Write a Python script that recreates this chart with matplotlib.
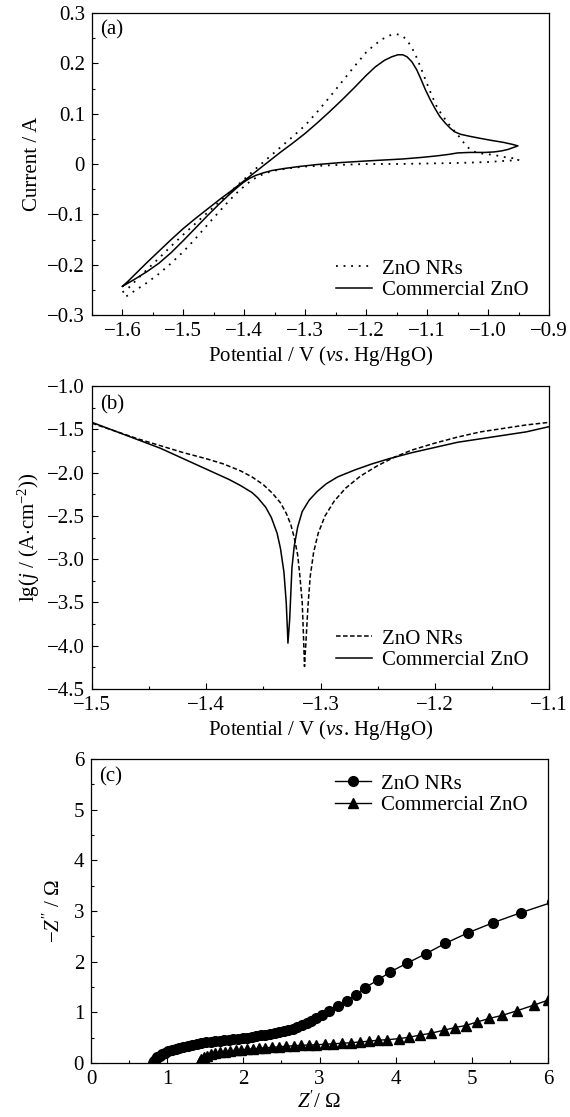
import matplotlib
matplotlib.use('Agg')
import matplotlib.pyplot as plt
from matplotlib.ticker import MultipleLocator, FuncFormatter

plt.rcParams['font.family'] = ['Liberation Serif', 'DejaVu Serif']
plt.rcParams['mathtext.fontset'] = 'custom'
plt.rcParams['mathtext.rm'] = 'Liberation Serif'
plt.rcParams['mathtext.it'] = 'Liberation Serif:italic'
plt.rcParams['font.size'] = 15

# (a) cyclic voltammetry: forward sweep then return sweep
cv_nr_x = [-1.600, -1.590, -1.575, -1.560, -1.540, -1.520, -1.500, -1.480, -1.460, -1.440,
           -1.420, -1.400, -1.380, -1.360, -1.340, -1.320, -1.300, -1.280, -1.260, -1.240,
           -1.220, -1.200, -1.185, -1.172, -1.160, -1.150, -1.141, -1.133, -1.125, -1.117,
           -1.109, -1.101, -1.093, -1.085, -1.076, -1.068, -1.060, -1.051, -1.043, -1.035,
           -1.027, -1.018, -1.005, -0.990, -0.975, -0.962, -0.950,
           -0.950, -0.960, -0.975, -1.000, -1.050, -1.100, -1.150, -1.200, -1.250, -1.300,
           -1.330, -1.350, -1.365, -1.378, -1.390, -1.400, -1.412, -1.425, -1.440, -1.460,
           -1.480, -1.500, -1.520, -1.540, -1.560, -1.580, -1.600]
cv_nr_y = [-0.255, -0.246, -0.228, -0.210, -0.187, -0.163, -0.140, -0.118, -0.096, -0.074,
           -0.052, -0.030, -0.008, 0.013, 0.034, 0.055, 0.077, 0.104, 0.133, 0.163,
           0.193, 0.222, 0.238, 0.249, 0.256, 0.258, 0.255, 0.246, 0.231, 0.211,
           0.187, 0.162, 0.138, 0.116, 0.098, 0.085, 0.072, 0.060, 0.047, 0.035,
           0.027, 0.022, 0.020, 0.018, 0.014, 0.012, 0.010,
           0.008, 0.007, 0.006, 0.004, 0.002, 0.001, 0.000, 0.000, -0.002, -0.005,
           -0.009, -0.013, -0.018, -0.025, -0.034, -0.044, -0.057, -0.073, -0.093, -0.120,
           -0.148, -0.174, -0.197, -0.218, -0.236, -0.252, -0.268]
cv_com_x = [-1.600, -1.590, -1.575, -1.560, -1.540, -1.520, -1.500, -1.480, -1.460, -1.440,
            -1.420, -1.400, -1.380, -1.360, -1.340, -1.320, -1.300, -1.280, -1.260, -1.240,
            -1.220, -1.200, -1.185, -1.170, -1.158, -1.148, -1.140, -1.133, -1.125, -1.117,
            -1.110, -1.103, -1.095, -1.087, -1.079, -1.070, -1.062, -1.055, -1.045, -1.030,
            -1.013, -0.995, -0.975, -0.960, -0.951,
            -0.958, -0.967, -0.978, -0.990, -1.005, -1.030, -1.050, -1.065, -1.085, -1.110,
            -1.140, -1.170, -1.200, -1.240, -1.280, -1.310, -1.335, -1.355, -1.370, -1.382,
            -1.392, -1.402, -1.412, -1.425, -1.440, -1.460, -1.480, -1.500, -1.520, -1.540,
            -1.560, -1.580, -1.600]
cv_com_y = [-0.243, -0.232, -0.214, -0.196, -0.173, -0.150, -0.128, -0.108, -0.089, -0.070,
            -0.052, -0.033, -0.014, 0.005, 0.024, 0.042, 0.061, 0.082, 0.104, 0.127,
            0.151, 0.176, 0.193, 0.206, 0.213, 0.217, 0.217, 0.213, 0.203, 0.187,
            0.168, 0.148, 0.128, 0.110, 0.094, 0.081, 0.071, 0.064, 0.059, 0.055,
            0.051, 0.047, 0.043, 0.039, 0.036,
            0.033, 0.029, 0.026, 0.024, 0.023, 0.023, 0.022, 0.019, 0.016, 0.013,
            0.010, 0.008, 0.006, 0.003, -0.001, -0.005, -0.009, -0.013, -0.018, -0.023,
            -0.029, -0.037, -0.047, -0.061, -0.078, -0.102, -0.127, -0.152, -0.176, -0.197,
            -0.214, -0.229, -0.243]

# (b) Tafel curves
tf_nr_x = [-1.500, -1.480, -1.460, -1.440, -1.420, -1.400, -1.385, -1.370, -1.360, -1.350,
           -1.342, -1.335, -1.330, -1.326, -1.323, -1.320, -1.318, -1.316, -1.315, -1.314,
           -1.3125, -1.311, -1.309, -1.306, -1.302, -1.296, -1.288, -1.278, -1.265, -1.250,
           -1.235, -1.220, -1.200, -1.180, -1.160, -1.140, -1.120, -1.100]
tf_nr_y = [-1.43, -1.52, -1.61, -1.69, -1.77, -1.84, -1.90, -1.98, -2.05, -2.14,
           -2.24, -2.35, -2.47, -2.60, -2.75, -2.95, -3.20, -3.50, -3.85, -4.24,
           -3.90, -3.55, -3.20, -2.92, -2.70, -2.50, -2.33, -2.18, -2.04, -1.92,
           -1.82, -1.74, -1.66, -1.59, -1.53, -1.49, -1.45, -1.42]
tf_com_x = [-1.500, -1.480, -1.460, -1.440, -1.420, -1.400, -1.380, -1.370, -1.360, -1.355,
            -1.348, -1.343, -1.338, -1.335, -1.332, -1.330, -1.329, -1.3285,
            -1.327, -1.326, -1.325, -1.323, -1.320, -1.316, -1.310, -1.303, -1.295, -1.285,
            -1.270, -1.255, -1.240, -1.220, -1.200, -1.180, -1.160, -1.140, -1.120, -1.100]
tf_com_y = [-1.42, -1.52, -1.62, -1.72, -1.84, -1.96, -2.08, -2.15, -2.23, -2.29,
            -2.40, -2.52, -2.70, -2.88, -3.15, -3.50, -3.80, -3.97,
            -3.70, -3.40, -3.10, -2.85, -2.63, -2.45, -2.32, -2.22, -2.13, -2.05,
            -1.97, -1.90, -1.84, -1.77, -1.71, -1.65, -1.61, -1.57, -1.53, -1.47]

# (c) Nyquist plots
ny_nr_x = [0.82, 0.83, 0.85, 0.87, 0.90, 0.93, 0.97, 1.01, 1.06, 1.11, 1.16, 1.21, 1.27, 1.33,
           1.39, 1.45, 1.51, 1.57, 1.63, 1.69, 1.75, 1.81, 1.87, 1.93, 1.99, 2.05, 2.11, 2.17,
           2.23, 2.29, 2.35, 2.41, 2.47, 2.53, 2.59, 2.65, 2.71, 2.77, 2.83, 2.89, 2.95, 3.03,
           3.12, 3.24, 3.36, 3.48, 3.60, 3.77, 3.93, 4.15, 4.40, 4.65, 4.95, 5.28, 5.65, 6.05]
ny_nr_y = [0.00, 0.04, 0.08, 0.11, 0.14, 0.17, 0.20, 0.23, 0.26, 0.285, 0.305, 0.325, 0.345, 0.36,
           0.375, 0.39, 0.405, 0.42, 0.43, 0.44, 0.45, 0.46, 0.47, 0.48, 0.49, 0.50, 0.515, 0.53,
           0.545, 0.56, 0.575, 0.59, 0.61, 0.63, 0.655, 0.68, 0.71, 0.745, 0.785, 0.83, 0.88, 0.94,
           1.03, 1.12, 1.23, 1.35, 1.49, 1.64, 1.80, 1.97, 2.16, 2.36, 2.57, 2.77, 2.97, 3.17]
ny_com_x = [1.42, 1.43, 1.45, 1.48, 1.52, 1.57, 1.63, 1.69, 1.76, 1.83, 1.90, 1.97, 2.05, 2.13,
            2.21, 2.29, 2.38, 2.47, 2.56, 2.66, 2.76, 2.86, 2.96, 3.07, 3.18, 3.30, 3.41, 3.53,
            3.65, 3.77, 3.89, 4.04, 4.18, 4.32, 4.47, 4.64, 4.78, 4.92, 5.07, 5.23, 5.40, 5.59,
            5.81, 6.00]
ny_com_y = [0.00, 0.04, 0.08, 0.11, 0.14, 0.17, 0.19, 0.21, 0.225, 0.24, 0.25, 0.26, 0.27, 0.28,
            0.29, 0.30, 0.31, 0.32, 0.33, 0.34, 0.35, 0.355, 0.36, 0.37, 0.38, 0.39, 0.40, 0.415,
            0.43, 0.45, 0.46, 0.48, 0.51, 0.55, 0.59, 0.65, 0.70, 0.74, 0.81, 0.88, 0.94, 1.03,
            1.14, 1.24]

labels = ['ZnO NRs', 'Commercial ZnO']

W, H = 570, 1117
fig = plt.figure(figsize=(W / 100, H / 100), dpi=100)


def add_ax(left, top, right, bottom):
    return fig.add_axes([left / W, 1 - bottom / H, (right - left) / W, (bottom - top) / H])


def style(ax, xmaj, xmin, ymaj, ymin):
    ax.xaxis.set_major_locator(MultipleLocator(xmaj))
    ax.xaxis.set_minor_locator(MultipleLocator(xmin))
    ax.yaxis.set_major_locator(MultipleLocator(ymaj))
    ax.yaxis.set_minor_locator(MultipleLocator(ymin))
    ax.tick_params(which='both', direction='in', top=False, right=False, labelsize=15)
    ax.tick_params(which='major', length=4, width=0.8, pad=5)
    ax.tick_params(which='minor', length=2.5, width=0.8)
    for s in ax.spines.values():
        s.set_linewidth(0.9)


def leg(ax, x, y):
    ax.legend(loc='upper left', bbox_to_anchor=(x, y), frameon=False, fontsize=15,
              handlelength=1.7, handletextpad=0.5, labelspacing=0.1,
              borderaxespad=0, borderpad=0)


fmt1 = FuncFormatter(lambda v, p: '0' if abs(v) < 1e-9 else f'{v:.1f}'.replace('-', '\u2212'))

# panel (a)
ax1 = add_ax(92, 13, 549, 315)
ax1.plot(cv_nr_x, cv_nr_y, color='black', lw=1.3, ls=(0, (1, 3.2)), label=labels[0])
ax1.plot(cv_com_x, cv_com_y, color='black', lw=1.1, label=labels[1])
ax1.set_xlim(-1.65, -0.9)
ax1.set_ylim(-0.3, 0.3)
style(ax1, 0.1, 0.05, 0.1, 0.05)
ax1.yaxis.set_major_formatter(fmt1)
ax1.set_xlabel(r'Potential / V ($vs$. Hg/HgO)', fontsize=15, labelpad=2)
ax1.set_ylabel('Current / A', fontsize=15, labelpad=4)
ax1.text(0.018, 0.945, '(a)', transform=ax1.transAxes, fontsize=15, va='center')
leg(ax1, 0.535, 0.185)

# panel (b)
ax2 = add_ax(92, 386, 549, 689)
ax2.plot(tf_nr_x, tf_nr_y, color='black', lw=1.1, ls=(0, (3, 1.6)), label=labels[0])
ax2.plot(tf_com_x, tf_com_y, color='black', lw=1.1, label=labels[1])
ax2.set_xlim(-1.5, -1.1)
ax2.set_ylim(-4.5, -1.0)
style(ax2, 0.1, 0.05, 0.5, 0.25)
ax2.set_xlabel(r'Potential / V ($vs$. Hg/HgO)', fontsize=15, labelpad=2)
ax2.set_ylabel(r'lg($j$ / (A$\cdot$cm$^{-2}$))', fontsize=15, labelpad=4)
ax2.text(0.018, 0.937, '(b)', transform=ax2.transAxes, fontsize=15, va='center')
leg(ax2, 0.535, 0.198)

# panel (c)
ax3 = add_ax(91, 759, 548, 1063)
ax3.plot(ny_nr_x, ny_nr_y, color='black', lw=1.0, marker='o', ms=7, label=labels[0])
ax3.plot(ny_com_x, ny_com_y, color='black', lw=1.0, marker='^', ms=7, label=labels[1])
ax3.set_xlim(0, 6)
ax3.set_ylim(0, 6)
style(ax3, 1, 0.5, 1, 0.5)
ax3.set_xlabel(r"$Z'$/ $\Omega$", fontsize=15, labelpad=2)
ax3.set_ylabel(r"$-Z''$ / $\Omega$", fontsize=15, labelpad=6)
ax3.text(0.018, 0.94, '(c)', transform=ax3.transAxes, fontsize=15, va='center')
leg(ax3, 0.535, 0.95)

fig.savefig('out.png', dpi=100)
